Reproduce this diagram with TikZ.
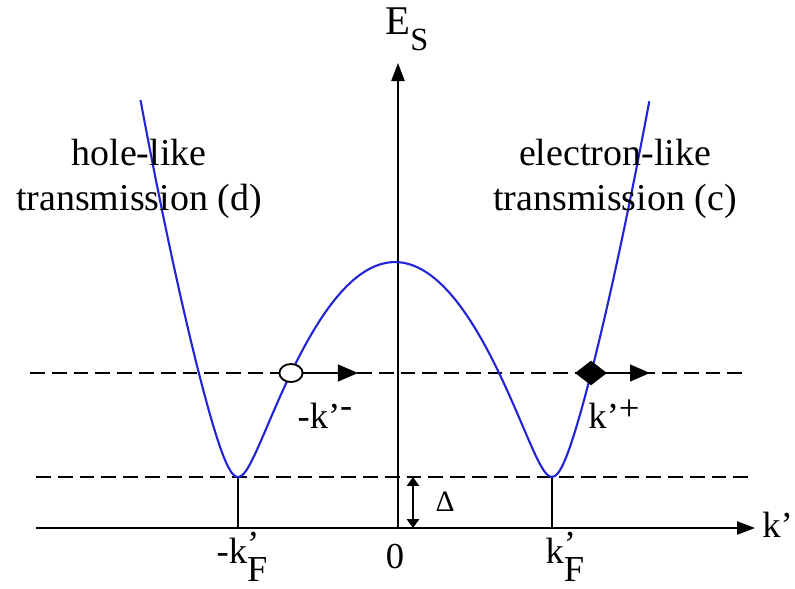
\documentclass[tikz,border=0pt]{standalone}
\usepackage{fontspec}
\setmainfont{Liberation Serif}
\usepackage{tikz}
\usetikzlibrary{positioning,arrows.meta,shapes.geometric}
\definecolor{bandblue}{RGB}{35,35,215}

\begin{document}
\begin{tikzpicture}[
  x=0.025cm, y=-0.025cm,
  font=\fontsize{26}{31}\selectfont,
  lab/.style={inner sep=0pt, align=center},
  ax/.style={-{Triangle[length=0.45cm, width=0.33cm]}, line width=1.3pt},
  guide/.style={dash pattern=on 10.5pt off 5pt, line width=1.3pt},
  band/.style={draw=bandblue, line width=1.5pt},
  mv/.style={-{Triangle[length=0.5cm, width=0.42cm]}, line width=1.3pt},
  hole/.style={ellipse, draw, line width=1.3pt, fill=white, minimum width=0.58cm, minimum height=0.45cm, inner sep=0pt},
  elec/.style={diamond, fill=black, minimum width=0.8cm, minimum height=0.62cm, inner sep=0pt},
  gap/.style={{Triangle[length=0.22cm, width=0.3cm]}-{Triangle[length=0.22cm, width=0.3cm]}, line width=1.3pt}
]
\useasboundingbox (0,0) rectangle (795,588);
\coordinate (O) at (398,528);
\coordinate (kL) at (36,528);
\coordinate (kR) at (755,528);
\coordinate (Etop) at (398,63);
\coordinate (uL) at (30,373);
\coordinate (uR) at (745,373);
\coordinate (lL) at (36,477);
\coordinate (lR) at (748,477);
\coordinate (mL) at (238,477);
\coordinate (mR) at (552,477);
\coordinate (dT) at (413,477);
\coordinate (dB) at (413,528);
\coordinate (hT) at (358,373);
\coordinate (eT) at (650,373);
% axes and guides
\draw[guide] (uL) -- (uR);
\draw[guide] (lL) -- (lR);
\draw[ax] (kL) -- (kR);
\draw[ax] (O) -- (Etop);
\draw[line width=1.3pt] (mL) -- (mL |- O);
\draw[line width=1.3pt] (mR) -- (mR |- O);
\draw[gap] (dT) -- (dB);
% dispersion
\draw[band] plot[domain=-1.6211:1.6211, samples=141, smooth] ({395+157*\x}, {528-100*sqrt((2.61*(\x*\x-1))^2+0.2601)});
\node[hole] (h) at (291,373) {};
\node[elec] (e) at (591,373) {};
\draw[mv] (h) -- (hT);
\draw[mv] (e) -- (eT);
% labels
\node[lab, font=\fontsize{29}{29}\selectfont] (es) at (407,29) {E\raisebox{-.4em}{\fontsize{23}{23}\selectfont S}};
\node[lab, anchor=base west] (kax) at (762,537) {k’};
\node[lab, anchor=base] (zero) at (395,568) {0};
\node[lab, anchor=base] (kfl) at (242,563) {-k\rlap{\raisebox{.18em}{’}}\raisebox{-.5em}{F}};
\node[lab, anchor=base] (kfr) at (565,563) {k\rlap{\raisebox{.18em}{’}}\raisebox{-.5em}{F}};
\node[lab, anchor=base] (kmin) at (325,428) {-k’\raisebox{.3em}{-}};
\node[lab, anchor=base] (kplus) at (614,428) {k’\raisebox{.2em}{+}};
\node[lab, font=\fontsize{21}{21}\selectfont] (del) at (445,502) {Δ};
\node[lab, font=\fontsize{27}{32}\selectfont] (holetxt) at (139,179) {hole-like\\transmission (d)};
\node[lab, font=\fontsize{27}{32}\selectfont] (electxt) at (615,179) {electron-like\\transmission (c)};
\end{tikzpicture}
\end{document}
